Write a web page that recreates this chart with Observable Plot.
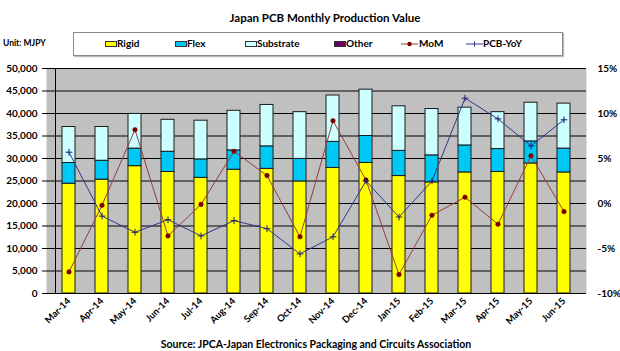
<!DOCTYPE html>
<html>
<head>
<meta charset="utf-8">
<script src="https://cdn.jsdelivr.net/npm/d3@7"></script>
<script src="https://cdn.jsdelivr.net/npm/@observablehq/plot@0.6"></script>
<style>
  html, body { margin: 0; padding: 0; background: #fff; }
  #wrap { position: relative; width: 620px; height: 351px; font-family: Lato, "Open Sans", sans-serif; font-weight: 700; color: #000; }
  #wrap svg { position: absolute; left: 0; top: 0; }
  .abs { position: absolute; white-space: nowrap; }
  #title { left: 0; width: 650px; top: 11px; text-align: center; font-size: 11.5px; }
  #unit { left: 3px; top: 38px; font-size: 8.5px; }
  #source { left: 0; width: 632px; top: 338px; text-align: center; font-size: 10.5px; }
  #legend { left: 73px; top: 32px; width: 488px; height: 22px; border: 1px solid #8a8a8a; background: #fff; box-shadow: 1px 1px 1px #bbb; }
  .sw { position: absolute; top: 41px; width: 12px; height: 6px; border: 1px solid #333; box-sizing: border-box; }
  .lt { position: absolute; top: 37px; font-size: 10px; }
</style>
</head>
<body>
<div id="wrap">
  <div id="chart"></div>
  <div class="abs" id="title">Japan PCB Monthly Production Value</div>
  <div class="abs" id="unit">Unit: MJPY</div>
  <div class="abs" id="legend"></div>
  <div class="abs" id="source">Source: JPCA-Japan Electronics Packaging and Circuits Association</div>
</div>
<script>
const months = ["Mar-14","Apr-14","May-14","Jun-14","Jul-14","Aug-14","Sep-14","Oct-14","Nov-14","Dec-14","Jan-15","Feb-15","Mar-15","Apr-15","May-15","Jun-15"];
const rigid = [24400,25300,28300,27000,25700,27500,27700,24900,27900,29000,26100,24700,26900,27000,28900,26900];
const flex = [4600,4200,3900,4500,4100,4300,5000,5000,5800,6000,5600,6000,6000,5100,4900,5300];
const substrate = [8000,7500,7700,7100,8600,8800,9200,10400,10300,10300,9900,10300,8400,8200,8600,10000];
const other = [0,0,0,0,0,0,0,0,0,0,0,0,0,0,0,0];
const mom = [-7.6,-0.2,8.2,-3.6,-0.1,5.8,3.1,-3.7,9.2,2.6,-7.9,-1.3,0.7,-2.3,5.3,-0.9];
const yoy = [5.7,-1.4,-3.2,-1.8,-3.6,-1.9,-2.8,-5.6,-3.7,2.5,-1.5,2.5,11.7,9.4,6.4,9.3];
const leftTicks = [0,5000,10000,15000,20000,25000,30000,35000,40000,45000,50000];
const rightTickLabels = ["-10%","-5%","0%","5%","10%","15%"];

const types = ["Rigid","Flex","Substrate","Other"];
const colors = ["#ffff00","#00c8f4","#ccffff","#660066"];
const series = [rigid, flex, substrate, other];

const bars = [];
months.forEach((m, i) => types.forEach((t, k) => {
  if (series[k][i] > 0) bars.push({month: m, type: t, value: series[k][i]});
}));

// right axis (-10%..15%) mapped onto the left scale (0..50,000)
const pctToY = p => (p + 10) * 2000;
const momData = months.map((m, i) => ({month: m, v: pctToY(mom[i])}));
const yoyData = months.map((m, i) => ({month: m, v: pctToY(yoy[i])}));

const chart = Plot.plot({
  width: 620,
  height: 351,
  marginLeft: 46,
  marginRight: 34,
  marginTop: 68,
  marginBottom: 58,
  style: {fontFamily: "Lato, 'Open Sans', sans-serif", fontWeight: 700, fontSize: "10px", color: "#000", background: "transparent"},
  x: {domain: months, paddingInner: 0.6, paddingOuter: 0.3, label: null},
  y: {domain: [0, 50000], label: null},
  color: {domain: types, range: colors},
  marks: [
    Plot.frame({fill: "#c0c0c0", stroke: null}),
    Plot.ruleY(leftTicks, {stroke: "#000", strokeWidth: 1}),
    Plot.barY(bars, {x: "month", y: "value", fill: "type", stroke: "#1a1a1a", strokeWidth: 1}),
    Plot.line(momData, {x: "month", y: "v", stroke: "#9b3b3b", strokeWidth: 1}),
    Plot.dot(momData, {x: "month", y: "v", r: 2.3, fill: "#7a0000", stroke: "#7a0000", strokeWidth: 0.5}),
    Plot.line(yoyData, {x: "month", y: "v", stroke: "#34348f", strokeWidth: 1}),
    Plot.dot(yoyData, {x: "month", y: "v", symbol: "plus", r: 2.3, stroke: "#1c1c6e", strokeWidth: 1}),
    Plot.axisY({ticks: leftTicks, tickFormat: d => d3.format(",")(d), tickSize: 4, tickPadding: 5, stroke: "#000", label: null}),
    Plot.ruleX([0], {x: () => months[0], dx: -13.5, stroke: "#000"}),
    Plot.axisY({anchor: "right", ticks: rightTickLabels.map((_, i) => i * 10000), tickFormat: (d, i) => rightTickLabels[i], tickSize: 0, tickPadding: 11, textAnchor: "start", label: null}),
    Plot.axisX({tickRotate: -45, tickSize: 0, tickPadding: 6, label: null, fontSize: "9.5px"}),
    Plot.ruleY([0], {stroke: "#000", strokeWidth: 1.2})
  ]
});
document.getElementById("chart").appendChild(chart);

// legend
const wrap = document.getElementById("wrap");
const legendItems = [
  {name: "Rigid", kind: "sw", color: colors[0], x: 105, tx: 117},
  {name: "Flex", kind: "sw", color: colors[1], x: 175, tx: 187},
  {name: "Substrate", kind: "sw", color: colors[2], x: 245, tx: 257},
  {name: "Other", kind: "sw", color: colors[3], x: 334, tx: 346},
  {name: "MoM", kind: "dot", color: "#9b3b3b", x: 401, tx: 419},
  {name: "PCB-YoY", kind: "plus", color: "#34348f", x: 466, tx: 483}
];
legendItems.forEach(it => {
  if (it.kind === "sw") {
    const s = document.createElement("div");
    s.className = "sw";
    s.style.left = it.x + "px";
    s.style.background = it.color;
    wrap.appendChild(s);
  } else {
    const ns = "http://www.w3.org/2000/svg";
    const svg = document.createElementNS(ns, "svg");
    svg.setAttribute("width", 18); svg.setAttribute("height", 10);
    svg.style.position = "absolute"; svg.style.left = it.x + "px"; svg.style.top = "39px";
    const l = document.createElementNS(ns, "line");
    l.setAttribute("x1", 0); l.setAttribute("x2", 17); l.setAttribute("y1", 5); l.setAttribute("y2", 5);
    l.setAttribute("stroke", it.color); svg.appendChild(l);
    if (it.kind === "dot") {
      const c = document.createElementNS(ns, "circle");
      c.setAttribute("cx", 8.5); c.setAttribute("cy", 5); c.setAttribute("r", 2.2); c.setAttribute("fill", "#7a0000");
      svg.appendChild(c);
    } else {
      const p = document.createElementNS(ns, "line");
      p.setAttribute("x1", 8.5); p.setAttribute("x2", 8.5); p.setAttribute("y1", 2.5); p.setAttribute("y2", 7.5);
      p.setAttribute("stroke", it.color); svg.appendChild(p);
    }
    wrap.appendChild(svg);
  }
  const t = document.createElement("div");
  t.className = "lt";
  t.style.left = it.tx + "px";
  t.textContent = it.name;
  wrap.appendChild(t);
});
</script>
</body>
</html>
